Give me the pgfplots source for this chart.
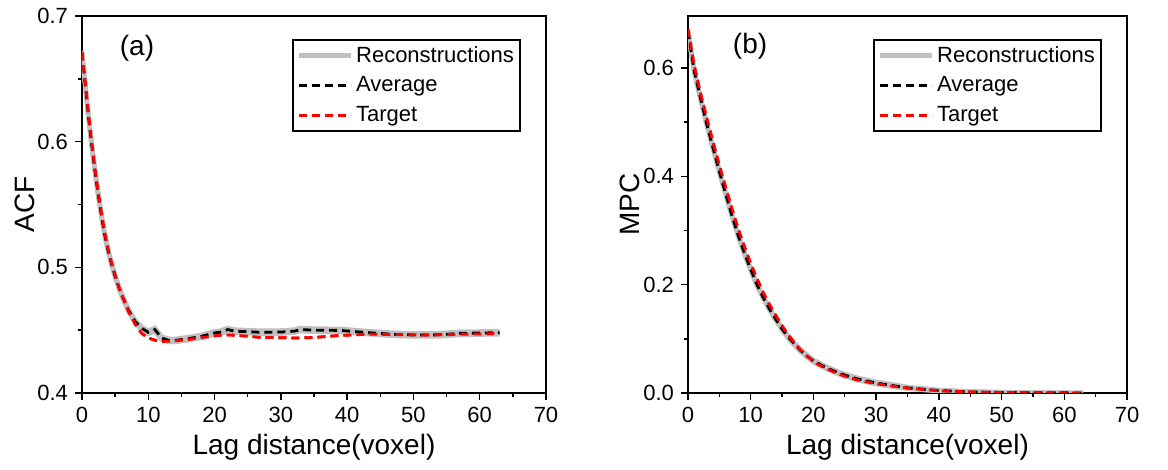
\documentclass[border=0pt]{standalone}
\usepackage{pgfplots}
\pgfplotsset{compat=1.18}
\usepackage{fontspec}
\setmainfont{Liberation Sans}
\definecolor{recgray}{RGB}{192,192,192}
\definecolor{tgtred}{RGB}{255,0,0}

% ACF data: x, average, target, rec1, rec2
\pgfplotstableread{
x    avg     tgt     r1      r2
0    0.671   0.671   0.672   0.670
0.5  0.645   0.647   0.646   0.644
1    0.619   0.621   0.620   0.618
1.5  0.596   0.598   0.597   0.595
2    0.575   0.577   0.576   0.574
2.5  0.556   0.558   0.557   0.555
3    0.539   0.541   0.540   0.538
3.5  0.524   0.526   0.525   0.523
4    0.512   0.513   0.513   0.511
4.5  0.502   0.503   0.503   0.501
5    0.493   0.494   0.494   0.492
5.5  0.485   0.485   0.486   0.484
6    0.478   0.478   0.479   0.477
7    0.466   0.465   0.467   0.465
8    0.457   0.455   0.458   0.456
9    0.4515  0.4475  0.4527  0.4503
10   0.4483  0.4438  0.4495  0.4471
11   0.4505  0.4420  0.4517  0.4490
12   0.4438  0.4410  0.4450  0.4426
13   0.4420  0.4412  0.4432  0.4408
14   0.4418  0.4415  0.4430  0.4406
16   0.4432  0.4425  0.4444  0.4420
18   0.4450  0.4440  0.4462  0.4438
20   0.4478  0.4455  0.4490  0.4466
21   0.4485  0.4460  0.4497  0.4473
22   0.4505  0.4462  0.4517  0.4490
23   0.4492  0.4460  0.4504  0.4480
25   0.4488  0.4452  0.4500  0.4476
27   0.4483  0.4442  0.4495  0.4471
30   0.4485  0.4440  0.4497  0.4473
32   0.4492  0.4438  0.4504  0.4480
33   0.4505  0.4438  0.4517  0.4493
35   0.4500  0.4442  0.4512  0.4488
39   0.4498  0.4458  0.4510  0.4486
42   0.4485  0.4465  0.4497  0.4473
44   0.4477  0.4468  0.4489  0.4465
47   0.4467  0.4465  0.4479  0.4455
50   0.4462  0.4463  0.4474  0.4450
53   0.4462  0.4462  0.4474  0.4450
55   0.4467  0.4464  0.4479  0.4455
57   0.4475  0.4467  0.4487  0.4463
60   0.4477  0.4470  0.4489  0.4465
63   0.4480  0.4474  0.4492  0.4468
}\acfdata

% MPC data
\pgfplotstableread{
x    avg     tgt     r1      r2
0    0.668   0.672   0.670   0.666
1    0.594   0.604   0.596   0.592
2    0.544   0.553   0.546   0.542
3    0.496   0.507   0.498   0.494
4    0.452   0.463   0.454   0.450
5    0.409   0.420   0.411   0.407
6    0.368   0.380   0.370   0.366
7    0.328   0.340   0.330   0.326
8    0.291   0.303   0.293   0.289
9    0.258   0.270   0.260   0.256
10   0.228   0.239   0.230   0.226
11   0.200   0.211   0.202   0.198
12   0.176   0.185   0.178   0.174
13   0.155   0.163   0.157   0.153
14   0.136   0.143   0.138   0.134
15   0.118   0.124   0.120   0.116
16   0.103   0.107   0.105   0.101
17   0.090   0.092   0.092   0.088
18   0.078   0.079   0.080   0.076
19   0.068   0.068   0.070   0.066
20   0.059   0.058   0.061   0.057
21   0.053   0.051   0.055   0.051
22   0.047   0.045   0.049   0.045
23   0.042   0.040   0.044   0.040
24   0.037   0.035   0.039   0.035
25   0.033   0.031   0.035   0.031
27   0.026   0.024   0.028   0.024
30   0.0185  0.017   0.0205  0.0165
33   0.013   0.012   0.015   0.011
35   0.0095  0.009   0.011   0.008
40   0.0045  0.004   0.0055  0.0035
45   0.002   0.002   0.003   0.0015
50   0.001   0.001   0.0015  0.0005
55   0.0005  0.0005  0.0008  0.0003
60   0.0002  0.0002  0.0004  0.0001
63   0.0001  0.0001  0.0002  0.0001
}\mpcdata

\pgfplotsset{
  myaxis/.style={
    scale only axis,
    height=188.5pt,
    xmin=0, xmax=70,
    xtick={0,10,...,70},
    minor xtick={5,15,...,65},
    tick pos=left,
    tick align=outside,
    major tick length=3.5pt,
    minor tick length=2pt,
    every tick/.style={black, line width=0.7pt},
    axis line style={line width=0.8pt},
    /pgf/number format/assume math mode=true,
    tick label style={font=\fontsize{11}{13}\selectfont},
    xlabel={Lag distance(voxel)},
    every axis x label/.style={at={(axis description cs:0.5,0)}, anchor=center, yshift=-27pt, font=\fontsize{14}{16}\selectfont},
    legend cell align=left,
    legend style={at={(rel axis cs:1,1)}, anchor=north east, xshift=-12.5pt, yshift=-11.5pt,
      draw=black, line width=0.9pt, font=\fontsize{11}{12}\selectfont,
      inner sep=1.5pt, row sep=2.6pt, nodes={inner sep=1.6pt}},
    legend image code/.code={\draw[#1] (0pt,0pt) -- (26pt,0pt);},
    recstyle/.style={color=recgray, line width=2.3pt},
    avgstyle/.style={color=black, line width=1.4pt, dash pattern=on 4pt off 2.5pt},
    tgtstyle/.style={color=tgtred, line width=1.4pt, dash pattern=on 4pt off 2.5pt},
  }
}

\begin{document}
\begin{tikzpicture}
\useasboundingbox (-41pt,-38.5pt) rectangle (543pt,196.5pt);
\begin{axis}[myaxis,
  width=232pt,
  ymin=0.4, ymax=0.7,
  ytick={0.4,0.5,0.6,0.7},
  minor ytick={0.45,0.55,0.65},
  yticklabel style={/pgf/number format/.cd, fixed, precision=1, fixed zerofill},
  ylabel={ACF},
  every axis y label/.style={at={(axis description cs:-0.1228,0.5)}, rotate=90, anchor=center, font=\fontsize{14}{16}\selectfont},
]
\addplot[recstyle] table[x=x,y=r1] {\acfdata};
\addlegendentry{Reconstructions}
\addplot[avgstyle] table[x=x,y=avg] {\acfdata};
\addlegendentry{Average}
\addplot[tgtstyle] table[x=x,y=tgt] {\acfdata};
\addlegendentry{Target}
\addplot[recstyle, forget plot] table[x=x,y=r2] {\acfdata};
\addplot[recstyle, forget plot] table[x=x,y=avg] {\acfdata};
\addplot[avgstyle, forget plot] table[x=x,y=avg] {\acfdata};
\addplot[tgtstyle, forget plot] table[x=x,y=tgt] {\acfdata};
\node[font=\fontsize{14}{16}\selectfont] at (axis cs:8.3,0.6745) {(a)};
\end{axis}

\begin{axis}[myaxis,
  at={(303pt,0pt)},
  width=219.5pt,
  ymin=0, ymax=0.696,
  ytick={0,0.2,0.4,0.6},
  minor ytick={0.1,0.3,0.5},
  yticklabel style={/pgf/number format/.cd, fixed, precision=1, fixed zerofill},
  ylabel={MPC},
  every axis y label/.style={at={(axis description cs:-0.1321,0.5)}, rotate=90, anchor=center, font=\fontsize{14}{16}\selectfont},
]
\addplot[recstyle] table[x=x,y=r1] {\mpcdata};
\addlegendentry{Reconstructions}
\addplot[avgstyle] table[x=x,y=avg] {\mpcdata};
\addlegendentry{Average}
\addplot[tgtstyle] table[x=x,y=tgt] {\mpcdata};
\addlegendentry{Target}
\addplot[recstyle, forget plot] table[x=x,y=r2] {\mpcdata};
\addplot[recstyle, forget plot] table[x=x,y=avg] {\mpcdata};
\addplot[avgstyle, forget plot] table[x=x,y=avg] {\mpcdata};
\addplot[tgtstyle, forget plot] table[x=x,y=tgt] {\mpcdata};
\node[font=\fontsize{14}{16}\selectfont] at (axis cs:9.9,0.64) {(b)};
\end{axis}
\end{tikzpicture}
\end{document}
